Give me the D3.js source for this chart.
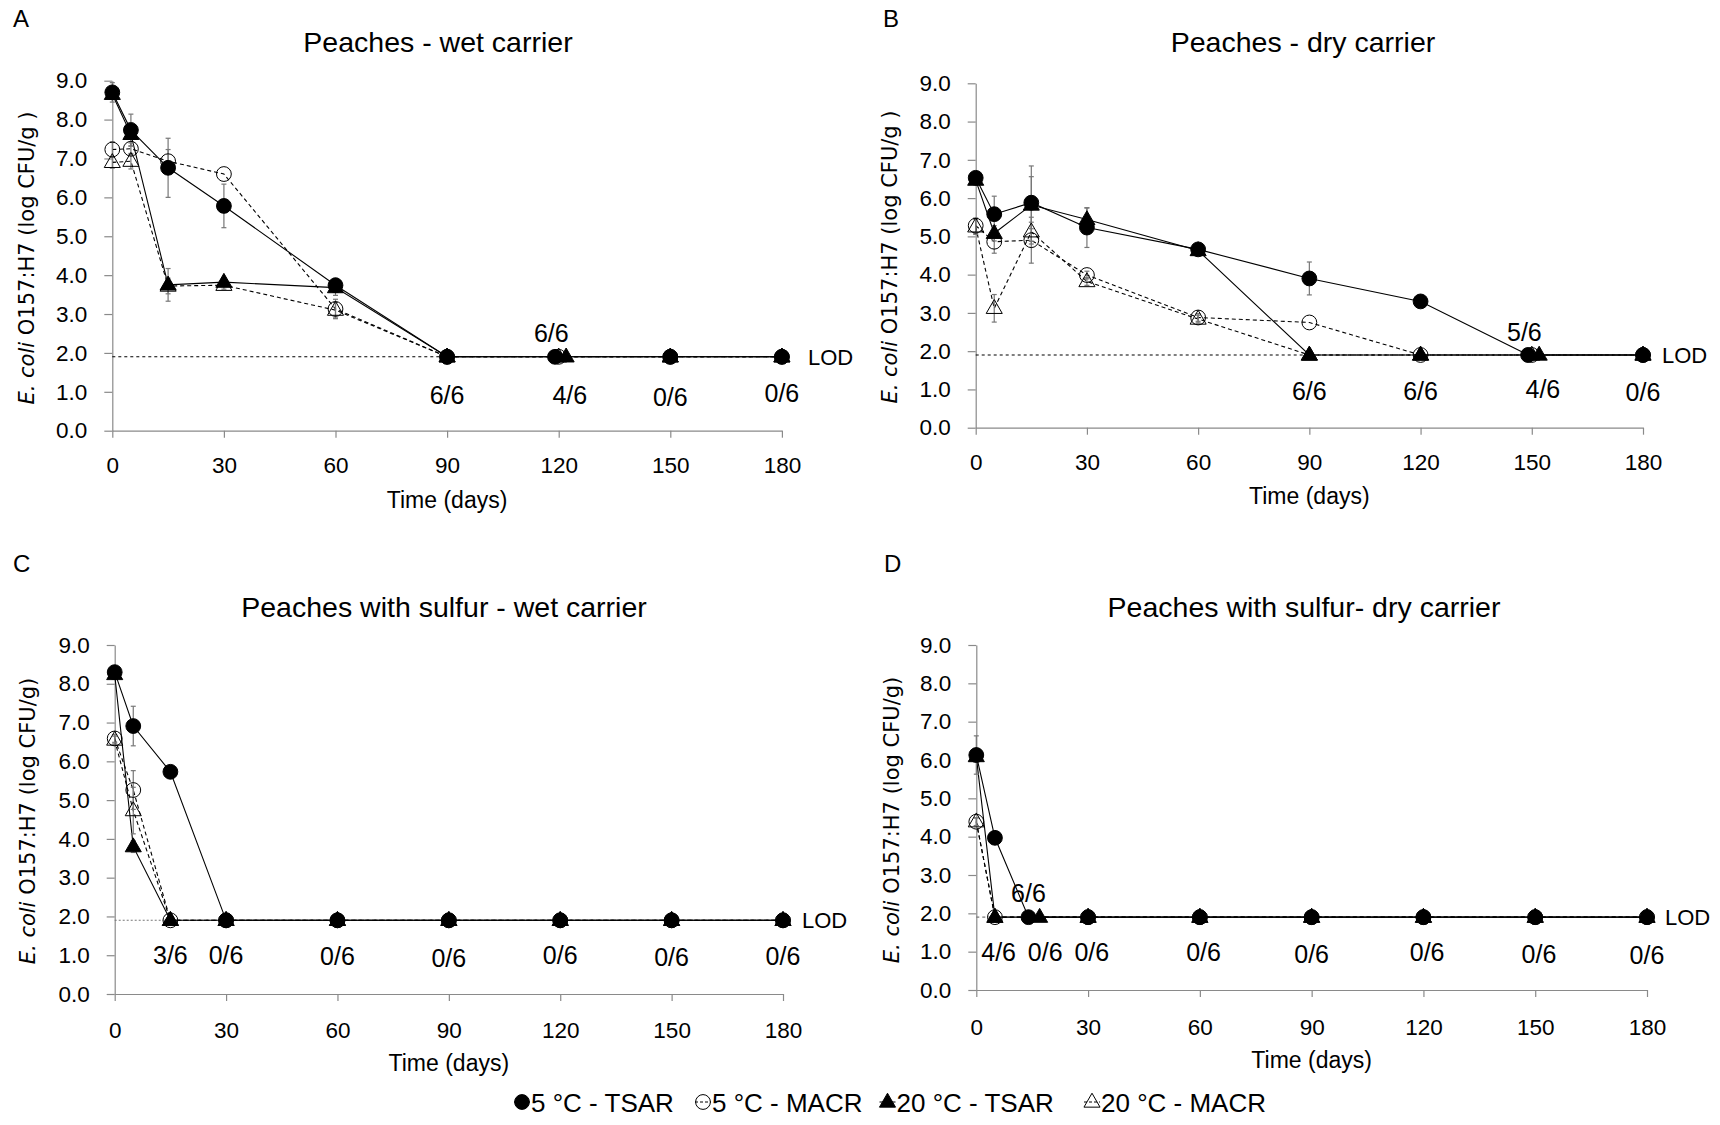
<!DOCTYPE html>
<html>
<head>
<meta charset="utf-8">
<script src="https://cdn.jsdelivr.net/npm/d3@7/dist/d3.min.js"></script>
<style>
  html, body { margin: 0; padding: 0; background: #fff; }
  svg { display: block; }
</style>
</head>
<body>
<svg id="fig" width="1720" height="1125"></svg>
<script>
// ---- shared axis values ----
const X_TICKS = [0, 30, 60, 90, 120, 150, 180];
const Y_TICKS = [0, 1, 2, 3, 4, 5, 6, 7, 8, 9];
const LOD = 1.9;

// ---- A: Peaches - wet carrier ----
const A_TSAR5_DAY = [0, 5, 15, 30, 60, 90, 119, 150, 180];
const A_TSAR5_LOG = [8.70, 7.73, 6.76, 5.78, 3.74, 1.9, 1.9, 1.9, 1.9];
const A_TSAR5_SD  = [0.25, 0.41, 0.76, 0.56, 0.18, 0, 0, 0, 0];
const A_MACR5_DAY = [0, 5, 15, 30, 60, 90, 120, 150, 180];
const A_MACR5_LOG = [7.23, 7.25, 6.93, 6.60, 3.13, 1.9, 1.9, 1.9, 1.9];
const A_MACR5_SD  = [0.2, 0.15, 0.3, 0, 0.25, 0, 0, 0, 0];
const A_TSAR20_DAY = [0, 5, 15, 30, 60, 90, 122, 150, 180];
const A_TSAR20_LOG = [8.65, 7.62, 3.75, 3.82, 3.68, 1.9, 1.9, 1.9, 1.9];
const A_TSAR20_SD  = [0.1, 0.3, 0.42, 0.1, 0.2, 0, 0, 0, 0];
const A_MACR20_DAY = [0, 5, 15, 30, 60, 90, 120, 150, 180];
const A_MACR20_LOG = [6.90, 6.93, 3.72, 3.74, 3.10, 1.9, 1.9, 1.9, 1.9];
const A_MACR20_SD  = [0.15, 0.2, 0.2, 0.1, 0.2, 0, 0, 0, 0];
const A_NOTE_DAY  = [90, 123, 150, 180, 118];
const A_NOTE_LOG  = [0.92, 0.92, 0.87, 0.96, 2.50];
const A_NOTE_TEXT = ["6/6", "4/6", "0/6", "0/6", "6/6"];

// ---- B: Peaches - dry carrier ----
const B_TSAR5_DAY = [0, 5, 15, 30, 60, 90, 120, 149, 180];
const B_TSAR5_LOG = [6.53, 5.58, 5.88, 5.23, 4.66, 3.90, 3.30, 1.9, 1.9];
const B_TSAR5_SD  = [0.1, 0.47, 0.68, 0.52, 0.1, 0.43, 0.08, 0, 0];
const B_MACR5_DAY = [0, 5, 15, 30, 60, 90, 120, 150, 180];
const B_MACR5_LOG = [5.28, 4.86, 4.90, 3.99, 2.88, 2.75, 1.9, 1.9, 1.9];
const B_MACR5_SD  = [0.2, 0.3, 0.6, 0.1, 0.1, 0, 0, 0, 0];
const B_TSAR20_DAY = [0, 5, 15, 30, 60, 90, 120, 152, 180];
const B_TSAR20_LOG = [6.47, 5.08, 5.82, 5.44, 4.63, 1.9, 1.9, 1.9, 1.9];
const B_TSAR20_SD  = [0.1, 0.2, 1.02, 0.3, 0.1, 0, 0, 0, 0];
const B_MACR20_DAY = [0, 5, 15, 30, 60, 90, 120, 150, 180];
const B_MACR20_LOG = [5.25, 3.12, 5.12, 3.82, 2.84, 1.9, 1.9, 1.9, 1.9];
const B_MACR20_SD  = [0.2, 0.36, 0.25, 0.1, 0.1, 0, 0, 0, 0];
const B_NOTE_DAY  = [90, 120, 153, 180, 148];
const B_NOTE_LOG  = [0.97, 0.97, 1.01, 0.93, 2.51];
const B_NOTE_TEXT = ["6/6", "6/6", "4/6", "0/6", "5/6"];

// ---- C: Peaches with sulfur - wet carrier ----
const C_TSAR5_DAY = [0, 5, 15, 30, 60, 90, 120, 150, 180];
const C_TSAR5_LOG = [8.30, 6.91, 5.73, 1.9, 1.9, 1.9, 1.9, 1.9, 1.9];
const C_TSAR5_SD  = [0.1, 0.51, 0.08, 0, 0, 0, 0, 0, 0];
const C_MACR5_DAY = [0, 5, 15, 30, 60, 90, 120, 150, 180];
const C_MACR5_LOG = [6.59, 5.26, 1.9, 1.9, 1.9, 1.9, 1.9, 1.9, 1.9];
const C_MACR5_SD  = [0.1, 0.5, 0, 0, 0, 0, 0, 0, 0];
const C_TSAR20_DAY = [0, 5, 15, 30, 60, 90, 120, 150, 180];
const C_TSAR20_LOG = [8.24, 3.80, 1.9, 1.9, 1.9, 1.9, 1.9, 1.9, 1.9];
const C_TSAR20_SD  = [0.1, 0.15, 0, 0, 0, 0, 0, 0, 0];
const C_MACR20_DAY = [0, 5, 15, 30, 60, 90, 120, 150, 180];
const C_MACR20_LOG = [6.55, 4.73, 1.9, 1.9, 1.9, 1.9, 1.9, 1.9, 1.9];
const C_MACR20_SD  = [0.1, 0.6, 0, 0, 0, 0, 0, 0, 0];
const C_NOTE_DAY  = [15, 30, 60, 90, 120, 150, 180];
const C_NOTE_LOG  = [1.0, 1.0, 0.97, 0.92, 1.0, 0.95, 0.97];
const C_NOTE_TEXT = ["3/6", "0/6", "0/6", "0/6", "0/6", "0/6", "0/6"];

// ---- D: Peaches with sulfur - dry carrier ----
const D_TSAR5_DAY = [0, 5, 14, 30, 60, 90, 120, 150, 180];
const D_TSAR5_LOG = [6.13, 3.97, 1.9, 1.9, 1.9, 1.9, 1.9, 1.9, 1.9];
const D_TSAR5_SD  = [0.5, 0.08, 0, 0, 0, 0, 0, 0, 0];
const D_MACR5_DAY = [0, 5, 30, 60, 90, 120, 150, 180];
const D_MACR5_LOG = [4.39, 1.9, 1.9, 1.9, 1.9, 1.9, 1.9, 1.9];
const D_MACR5_SD  = [0.1, 0, 0, 0, 0, 0, 0, 0];
const D_TSAR20_DAY = [0, 5, 17, 30, 60, 90, 120, 150, 180];
const D_TSAR20_LOG = [6.09, 1.9, 1.9, 1.9, 1.9, 1.9, 1.9, 1.9, 1.9];
const D_TSAR20_SD  = [0.1, 0, 0, 0, 0, 0, 0, 0, 0];
const D_MACR20_DAY = [0, 5, 30, 60, 90, 120, 150, 180];
const D_MACR20_LOG = [4.39, 1.9, 1.9, 1.9, 1.9, 1.9, 1.9, 1.9];
const D_MACR20_SD  = [0.1, 0, 0, 0, 0, 0, 0, 0];
const D_NOTE_DAY  = [6, 18.5, 31, 61, 90, 121, 151, 180];
const D_NOTE_LOG  = [1.0, 1.0, 1.0, 0.98, 0.95, 0.98, 0.95, 0.92];
const D_NOTE_TEXT = ["4/6", "0/6", "0/6", "0/6", "0/6", "0/6", "0/6", "0/6"];
const D_NOTE_TOP_DAY = 14, D_NOTE_TOP_LOG = 2.52;

// ---- legend ----
const LEGEND_LABELS = ["5 °C - TSAR", "5 °C - MACR", "20 °C - TSAR", "20 °C - MACR"];

// ---- build series ----
function series(days, logs, sd) {
  return days.map((d, i) => ({ day: d, v: logs[i], e: sd[i] }));
}
// style of each treatment: marker shape, fill, line dash
const STYLES = {
  tsar5:  { shape: "circle",   filled: true,  dashed: false },
  macr5:  { shape: "circle",   filled: false, dashed: true },
  tsar20: { shape: "triangle", filled: true,  dashed: false },
  macr20: { shape: "triangle", filled: false, dashed: true }
};

const panels = [
  {
    letter: "A", title: "Peaches - wet carrier", ylab: "O157:H7 (log CFU/g )",
    box: { x0: 112.3, x1: 781.9, y0: 430.7, y1: 80.7 },
    titleX: 438, titleY: 52, letterX: 13, letterY: 27,
    ylabX: 34, ylabY: 258, xlabY: 508, tickOff: 42, lodDx: 26,
    lodStyle: { dash: "3,3", color: "#000" },
    data: {
      tsar5: series(A_TSAR5_DAY, A_TSAR5_LOG, A_TSAR5_SD),
      macr5: series(A_MACR5_DAY, A_MACR5_LOG, A_MACR5_SD),
      tsar20: series(A_TSAR20_DAY, A_TSAR20_LOG, A_TSAR20_SD),
      macr20: series(A_MACR20_DAY, A_MACR20_LOG, A_MACR20_SD)
    },
    notes: A_NOTE_DAY.map((d, i) => ({ day: d, v: A_NOTE_LOG[i], t: A_NOTE_TEXT[i] }))
  },
  {
    letter: "B", title: "Peaches - dry carrier", ylab: "O157:H7 (log CFU/g )",
    box: { x0: 975.7, x1: 1643, y0: 427.7, y1: 83.3 },
    titleX: 1303, titleY: 52, letterX: 883, letterY: 27,
    ylabX: 897, ylabY: 257, xlabY: 504, tickOff: 42, lodDx: 19,
    lodStyle: { dash: "3,3", color: "#000" },
    data: {
      tsar5: series(B_TSAR5_DAY, B_TSAR5_LOG, B_TSAR5_SD),
      macr5: series(B_MACR5_DAY, B_MACR5_LOG, B_MACR5_SD),
      tsar20: series(B_TSAR20_DAY, B_TSAR20_LOG, B_TSAR20_SD),
      macr20: series(B_MACR20_DAY, B_MACR20_LOG, B_MACR20_SD)
    },
    notes: B_NOTE_DAY.map((d, i) => ({ day: d, v: B_NOTE_LOG[i], t: B_NOTE_TEXT[i] }))
  },
  {
    letter: "C", title: "Peaches with sulfur - wet carrier", ylab: "O157:H7 (log CFU/g)",
    box: { x0: 114.7, x1: 783, y0: 994, y1: 645 },
    titleX: 444, titleY: 617, letterX: 13, letterY: 572,
    ylabX: 35, ylabY: 821, xlabY: 1071, tickOff: 44, lodDx: 19,
    lodStyle: { dash: "2,2", color: "#777" },
    data: {
      tsar5: series(C_TSAR5_DAY, C_TSAR5_LOG, C_TSAR5_SD),
      macr5: series(C_MACR5_DAY, C_MACR5_LOG, C_MACR5_SD),
      tsar20: series(C_TSAR20_DAY, C_TSAR20_LOG, C_TSAR20_SD),
      macr20: series(C_MACR20_DAY, C_MACR20_LOG, C_MACR20_SD)
    },
    notes: C_NOTE_DAY.map((d, i) => ({ day: d, v: C_NOTE_LOG[i], t: C_NOTE_TEXT[i] }))
  },
  {
    letter: "D", title: "Peaches with sulfur- dry carrier", ylab: "O157:H7 (log CFU/g)",
    box: { x0: 976.3, x1: 1647, y0: 990, y1: 645 },
    titleX: 1304, titleY: 617, letterX: 884, letterY: 572,
    ylabX: 899, ylabY: 820, xlabY: 1068, tickOff: 45, lodDx: 18,
    lodStyle: { dash: "3,3", color: "#777" },
    data: {
      tsar5: series(D_TSAR5_DAY, D_TSAR5_LOG, D_TSAR5_SD),
      macr5: series(D_MACR5_DAY, D_MACR5_LOG, D_MACR5_SD),
      tsar20: series(D_TSAR20_DAY, D_TSAR20_LOG, D_TSAR20_SD),
      macr20: series(D_MACR20_DAY, D_MACR20_LOG, D_MACR20_SD)
    },
    notes: D_NOTE_DAY.map((d, i) => ({ day: d, v: D_NOTE_LOG[i], t: D_NOTE_TEXT[i] }))
      .concat([{ day: D_NOTE_TOP_DAY, v: D_NOTE_TOP_LOG, t: "6/6" }])
  }
];

// ---- drawing ----
const FONT = "'Liberation Sans', Arial, sans-serif";
const YFONT = "'DejaVu Sans', Verdana, sans-serif";
const AXIS_GREY = "#8a8a8a";
const ERR_GREY = "#777";

const svg = d3.select("#fig");
svg.append("rect").attr("width", 1720).attr("height", 1125).attr("fill", "#fff");

const triPath = d3.symbol().type(d3.symbolTriangle).size(112)();

function drawMarker(g, shape, filled, cx, cy) {
  if (shape === "circle") {
    g.append("circle").attr("cx", cx).attr("cy", cy).attr("r", 7.4)
      .attr("fill", filled ? "#000" : "none")
      .attr("stroke", "#000").attr("stroke-width", 1);
  } else {
    g.append("path").attr("d", triPath)
      .attr("transform", `translate(${cx},${cy + 0.5})`)
      .attr("fill", filled ? "#000" : "none")
      .attr("stroke", "#000").attr("stroke-width", 1);
  }
}

panels.forEach(p => {
  const g = svg.append("g");
  const x = d3.scaleLinear().domain([0, 180]).range([p.box.x0, p.box.x1]);
  const y = d3.scaleLinear().domain([0, 9]).range([p.box.y0, p.box.y1]);

  // panel letter and title
  g.append("text").attr("x", p.letterX).attr("y", p.letterY)
    .attr("font-family", FONT).attr("font-size", 24).text(p.letter);
  g.append("text").attr("x", p.titleX).attr("y", p.titleY)
    .attr("text-anchor", "middle")
    .attr("font-family", FONT).attr("font-size", 28.5).text(p.title);

  // axes
  const xAxis = d3.axisBottom(x).tickValues(X_TICKS).tickSizeInner(7).tickSizeOuter(0)
    .tickPadding(p.tickOff - 7 - 16);
  const gx = g.append("g").attr("transform", `translate(0,${p.box.y0})`).call(xAxis);
  const yAxis = d3.axisLeft(y).tickValues(Y_TICKS).tickFormat(d3.format(".1f"))
    .tickSizeInner(8).tickSizeOuter(0).tickPadding(17);
  const gy = g.append("g").attr("transform", `translate(${p.box.x0},0)`).call(yAxis);
  [gx, gy].forEach(a => {
    a.select(".domain").attr("stroke", AXIS_GREY).attr("stroke-width", 1.2);
    a.selectAll(".tick line").attr("stroke", AXIS_GREY).attr("stroke-width", 1.2);
    a.selectAll(".tick text").attr("fill", "#000")
      .attr("font-family", FONT).attr("font-size", 22.5);
  });

  // axis titles
  g.append("text").attr("x", (p.box.x0 + p.box.x1) / 2).attr("y", p.xlabY)
    .attr("text-anchor", "middle").attr("font-family", FONT).attr("font-size", 23)
    .text("Time (days)");
  const yl = g.append("text")
    .attr("transform", `translate(${p.ylabX},${p.ylabY}) rotate(-90)`)
    .attr("text-anchor", "middle").attr("font-family", YFONT).attr("font-size", 21);
  yl.append("tspan").attr("font-style", "italic").text("E. coli");
  yl.append("tspan").text(" " + p.ylab);

  // limit of detection
  g.append("line").attr("x1", x(0)).attr("x2", x(180)).attr("y1", y(LOD)).attr("y2", y(LOD))
    .attr("stroke", p.lodStyle.color).attr("stroke-width", 1.1)
    .attr("stroke-dasharray", p.lodStyle.dash);
  g.append("text").attr("x", x(180) + p.lodDx).attr("y", y(LOD)).attr("dy", "0.36em")
    .attr("font-family", FONT).attr("font-size", 22).text("LOD");

  const line = d3.line().x(d => x(d.day)).y(d => y(d.v));
  const order = ["macr20", "tsar20", "macr5", "tsar5"];

  // connecting lines
  order.forEach(k => {
    const st = STYLES[k];
    g.append("path").attr("d", line(p.data[k])).attr("fill", "none")
      .attr("stroke", "#000").attr("stroke-width", 1.1)
      .attr("stroke-dasharray", st.dashed ? "4,3" : null);
  });

  // error bars
  order.forEach(k => {
    p.data[k].filter(d => d.e > 0).forEach(d => {
      const cx = x(d.day), top = y(d.v + d.e), bot = y(d.v - d.e);
      g.append("line").attr("x1", cx).attr("x2", cx).attr("y1", top).attr("y2", bot)
        .attr("stroke", ERR_GREY).attr("stroke-width", 1.2);
      [top, bot].forEach(yy => g.append("line").attr("x1", cx - 2.5).attr("x2", cx + 2.5)
        .attr("y1", yy).attr("y2", yy).attr("stroke", ERR_GREY).attr("stroke-width", 1.2));
    });
  });

  // markers
  order.forEach(k => {
    const st = STYLES[k];
    p.data[k].forEach(d => drawMarker(g, st.shape, st.filled, x(d.day), y(d.v)));
  });

  // detection counts
  p.notes.forEach(n => {
    g.append("text").attr("x", x(n.day)).attr("y", y(n.v)).attr("dy", "0.36em")
      .attr("text-anchor", "middle").attr("font-family", FONT).attr("font-size", 25)
      .text(n.t);
  });
});

// ---- legend ----
const legendKeys = ["tsar5", "macr5", "tsar20", "macr20"];
const legendX = [522, 703, 887.5, 1092];
const lg = svg.append("g");
legendKeys.forEach((k, i) => {
  const st = STYLES[k];
  const cx = legendX[i], cy = 1102;
  lg.append("line").attr("x1", cx - 8).attr("x2", cx + 8).attr("y1", cy).attr("y2", cy)
    .attr("stroke", "#000").attr("stroke-width", 1)
    .attr("stroke-dasharray", st.dashed ? "3,2" : null);
  drawMarker(lg, st.shape, st.filled, cx, cy);
  lg.append("text").attr("x", cx + 9).attr("y", 1111.5)
    .attr("font-family", FONT).attr("font-size", 26).text(LEGEND_LABELS[i]);
});
</script>
</body>
</html>
